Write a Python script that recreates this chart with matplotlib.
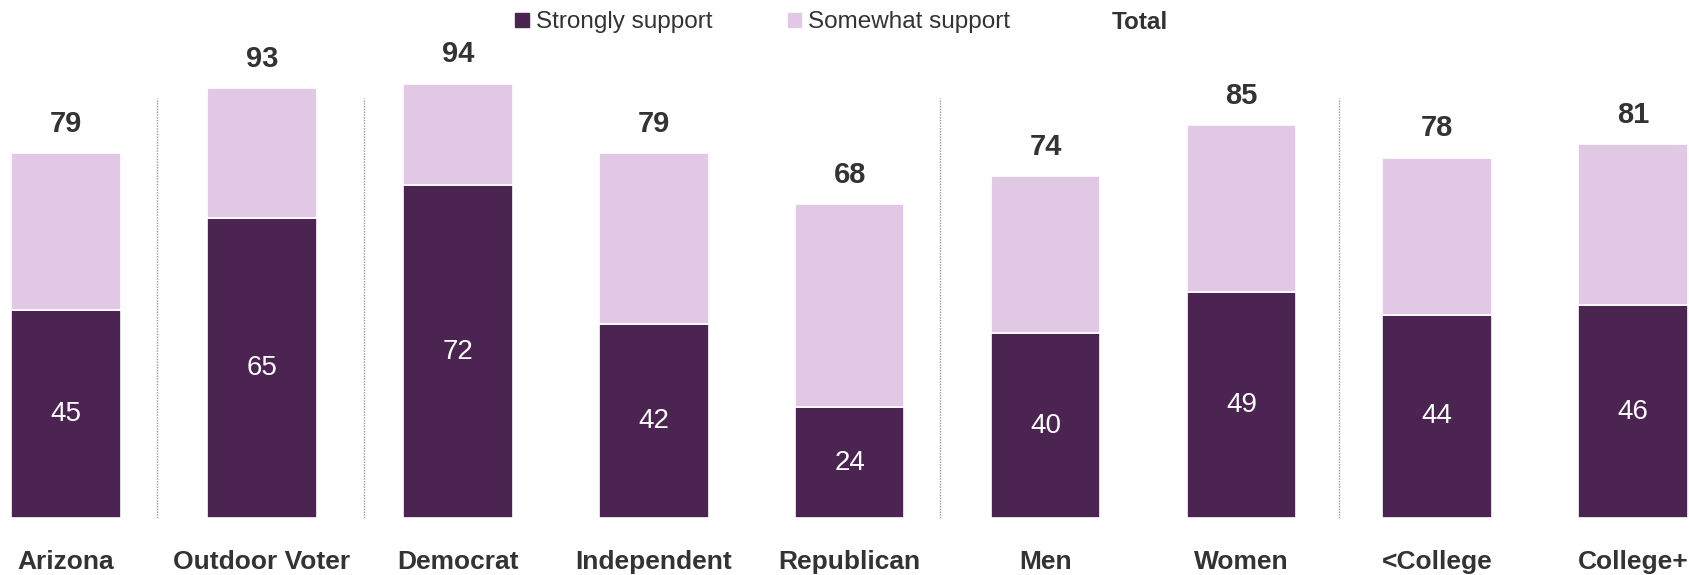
import numpy as np
import matplotlib
matplotlib.use("Agg")
import matplotlib.pyplot as plt
from matplotlib.patches import Patch

plt.rcParams['font.family'] = ['Liberation Sans Narrow', 'Liberation Sans', 'DejaVu Sans']

groups = ["Arizona", "Outdoor Voter", "Democrat", "Independent", "Republican",
          "Men", "Women", "<College", "College+"]
strongly = [45, 65, 72, 42, 24, 40, 49, 44, 46]
somewhat = [34, 28, 22, 37, 44, 34, 36, 34, 35]
totals = [79, 93, 94, 79, 68, 74, 85, 78, 81]
separators = [0.465, 1.52, 4.46, 6.5]

dark = "#4b2452"
light = "#e1c9e6"
txt = "#333333"

fig = plt.figure(figsize=(16.89, 5.75), dpi=100)
ax = fig.add_axes([0, 0.0991, 1, 0.8035])

x = np.arange(len(groups))
w = 0.56
b1 = ax.bar(x, strongly, w, color=dark, edgecolor="white", linewidth=1.2)
b2 = ax.bar(x, somewhat, w, bottom=strongly, color=light, edgecolor="white", linewidth=1.2)

for xi, s in zip(x, strongly):
    ax.text(xi, s / 2, str(s), ha="center", va="center", color="white", fontsize=20)
for xi, t in zip(x, totals):
    ax.annotate(str(t), (xi, t), xytext=(0, 11), textcoords="offset points",
                ha="center", va="bottom", color=txt, fontsize=21, fontweight="bold")

for s in separators:
    ax.vlines(s, 0, 91, colors="#999999", linestyles=(0, (1, 1)), linewidth=1)

ax.set_xlim(-0.337, 8.285)
ax.set_ylim(0, 100)
ax.set_xticks(x)
ax.set_xticklabels(groups, fontsize=19, fontweight="bold", color=txt)
ax.tick_params(axis="x", length=0, pad=23)
ax.set_yticks([])
for sp in ax.spines.values():
    sp.set_visible(False)

# legend: two swatches plus a bold "Total" header
handles = [Patch(color=dark), Patch(color=light)]
leg = fig.legend(handles, ["Strongly support", "Somewhat support"],
                 loc="center left", bbox_to_anchor=(0.305, 0.961), ncol=2, frameon=False,
                 fontsize=17.5, handlelength=0.55, handleheight=0.55, handletextpad=0.3,
                 columnspacing=3.1, borderpad=0, borderaxespad=0)
for t in leg.get_texts():
    t.set_color(txt)
fig.text(0.658, 0.961, "Total", ha="left", va="center", fontsize=17.5,
         fontweight="bold", color=txt)

fig.savefig("out.png", dpi=100)
